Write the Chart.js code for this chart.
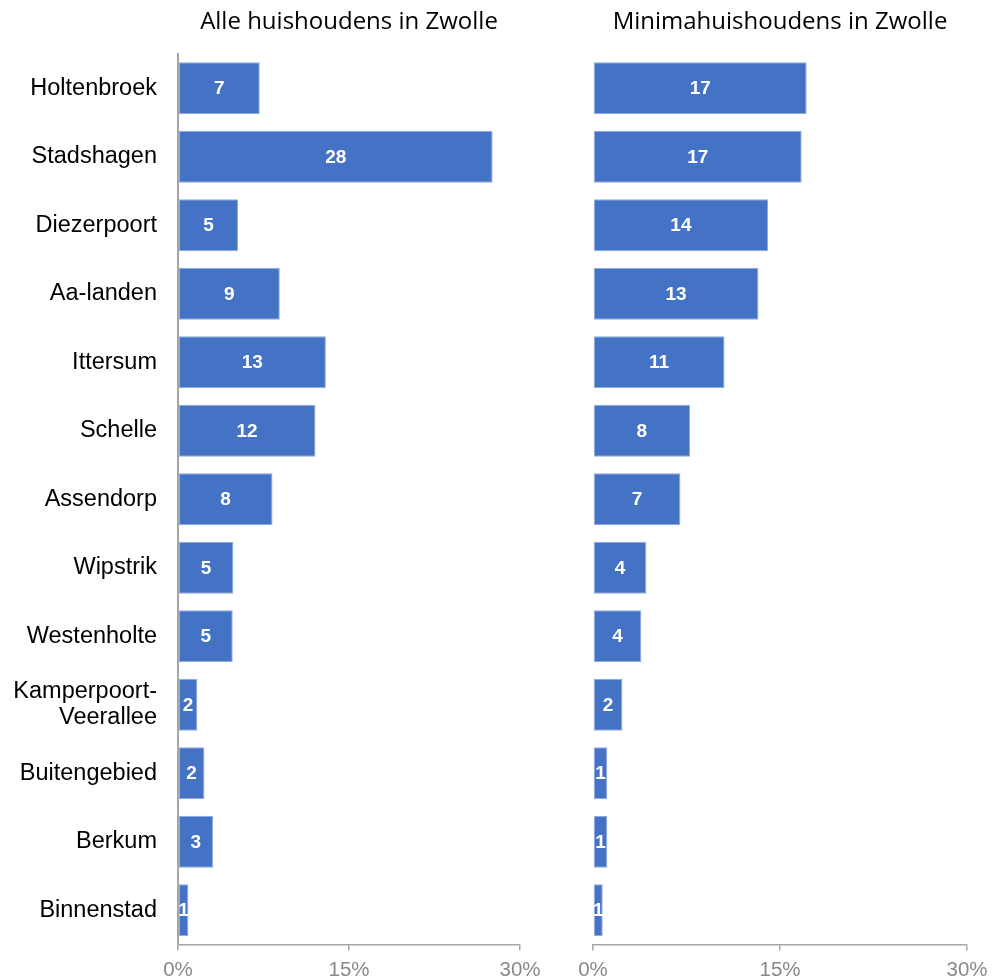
<!DOCTYPE html>
<html>
<head>
<meta charset="utf-8">
<script src="https://cdn.jsdelivr.net/npm/chart.js@4/dist/chart.umd.min.js"></script>
<style>
  html, body { margin: 0; padding: 0; background: #fff; }
  #wrap { position: relative; width: 997px; height: 979px; }
  #left { position: absolute; left: 0; top: 0; }
  #right { position: absolute; left: 560px; top: 0; }
</style>
</head>
<body>
<div id="wrap">
  <canvas id="left" width="560" height="979"></canvas>
  <canvas id="right" width="437" height="979"></canvas>
</div>
<script>
// wijken (categories)
const wijken = [
    "Holtenbroek", "Stadshagen", "Diezerpoort", "Aa-landen", "Ittersum",
    "Schelle", "Assendorp", "Wipstrik", "Westenholte",
    ["Kamperpoort-", "Veerallee"], "Buitengebied", "Berkum", "Binnenstad",
];

// % of households per wijk
const alleHuishoudens = [7.17, 27.6, 5.27, 8.93, 12.97, 12.06, 8.29, 4.86, 4.8, 1.7, 2.32, 3.07, 0.91];
const minimaHuishoudens = [17.14, 16.74, 14.04, 13.27, 10.55, 7.78, 7.01, 4.28, 3.88, 2.36, 1.15, 1.15, 0.78];

const xTicks = [0, 15, 30];

const BAR_FILL = "#4472C4";
const BAR_EDGE = "#8faadc";
const AXIS_GREY = "#a6a6a6";

// white value labels in the middle of each bar
const barValueLabels = {
    id: "barValueLabels",
    afterDatasetsDraw(chart) {
        const ctx = chart.ctx;
        const meta = chart.getDatasetMeta(0);
        const values = chart.data.datasets[0].data;
        ctx.save();
        ctx.fillStyle = "#ffffff";
        ctx.font = "bold 19px 'Liberation Sans', Arial, sans-serif";
        ctx.textAlign = "center";
        ctx.textBaseline = "middle";
        meta.data.forEach((bar, i) => {
            const cx = (bar.x + bar.base) / 2;
            ctx.fillText(String(Math.round(values[i])), cx, bar.y + 1);
        });
        ctx.restore();
    },
};

function makeChart(canvasId, title, values, showCategories) {
    const ctx = document.getElementById(canvasId).getContext("2d");
    return new Chart(ctx, {
        type: "bar",
        data: {
            labels: wijken,
            datasets: [
                {
                    data: values,
                    backgroundColor: BAR_FILL,
                    borderColor: BAR_EDGE,
                    borderWidth: 1,
                    borderSkipped: false,
                    barPercentage: 0.76,
                    categoryPercentage: 1,
                },
            ],
        },
        options: {
            indexAxis: "y",
            responsive: false,
            animation: false,
            layout: {
                padding: showCategories
                    ? { left: 0, right: 40, top: 0, bottom: 0 }
                    : { left: 33, right: 30, top: 0, bottom: 0 },
            },
            plugins: {
                legend: { display: false },
                tooltip: { enabled: false },
                title: {
                    display: true,
                    text: title,
                    fullSize: false,
                    color: "#000000",
                    font: { family: "'Open Sans', sans-serif", size: 24, weight: "normal", lineHeight: 1.2 },
                    padding: { top: 7.6, bottom: 17.6 },
                },
            },
            scales: {
                x: {
                    min: 0,
                    max: 30,
                    afterBuildTicks: (scale) => {
                        scale.ticks = xTicks.map((v) => ({ value: v }));
                    },
                    afterFit: (scale) => {
                        scale.height = 34.5;
                    },
                    grid: {
                        display: true,
                        drawOnChartArea: false,
                        drawTicks: true,
                        tickLength: 6,
                        color: AXIS_GREY,
                        lineWidth: 1.5,
                    },
                    border: { display: true, color: AXIS_GREY, width: 1.5 },
                    ticks: {
                        color: "#898989",
                        padding: 8,
                        maxRotation: 0,
                        font: { family: "'Liberation Sans', Arial, sans-serif", size: 20.5 },
                        callback: (v) => v + "%",
                    },
                },
                y: {
                    display: showCategories,
                    afterFit: (scale) => {
                        scale.width = showCategories ? 178 : 0;
                    },
                    grid: { display: false, drawTicks: false },
                    border: { display: showCategories, color: AXIS_GREY, width: 2 },
                    ticks: {
                        color: "#000000",
                        padding: 21,
                        autoSkip: false,
                        font: { family: "'Liberation Sans', Arial, sans-serif", size: 23.5, lineHeight: 1.1 },
                    },
                },
            },
        },
        plugins: [barValueLabels],
    });
}

makeChart("left", "Alle huishoudens in Zwolle", alleHuishoudens, true);
makeChart("right", "Minimahuishoudens in Zwolle", minimaHuishoudens, false);
</script>
</body>
</html>
